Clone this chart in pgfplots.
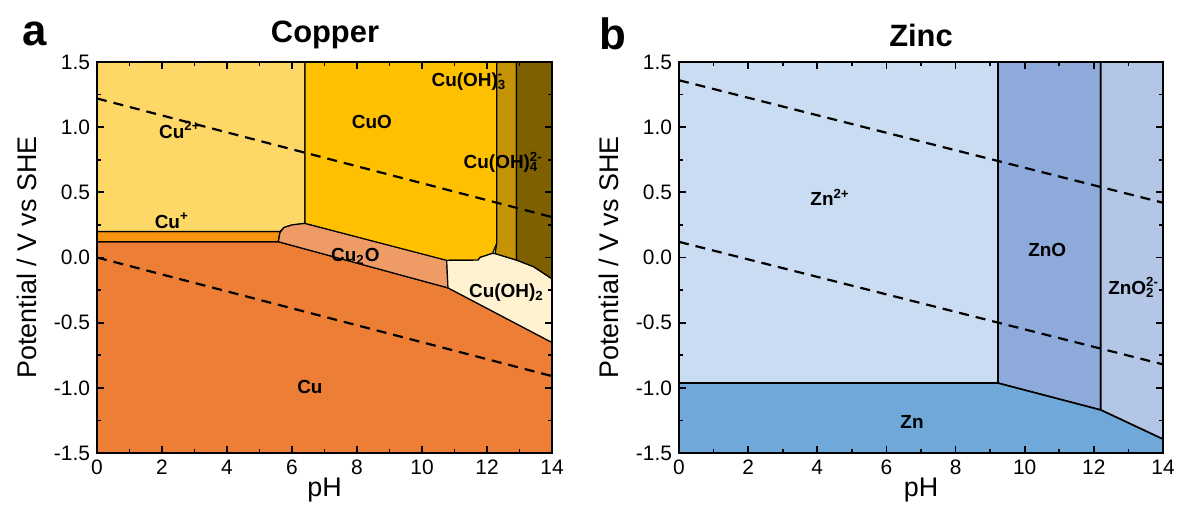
\documentclass[border=0pt]{standalone}
\usepackage{fontspec}
\setmainfont{Liberation Sans}
\usepackage{pgfplots}
\pgfplotsset{compat=1.18}
\definecolor{cuII}{HTML}{FDD866}
\definecolor{cuO}{HTML}{FFC000}
\definecolor{cuOHiii}{HTML}{C49306}
\definecolor{cuOHiv}{HTML}{7F6000}
\definecolor{cuI}{HTML}{F8930F}
\definecolor{cuiiO}{HTML}{EF9B66}
\definecolor{cuM}{HTML}{EC7E36}
\definecolor{cuOHii}{HTML}{FFF2D0}
\definecolor{znII}{HTML}{C9DCF1}
\definecolor{znO}{HTML}{8EAADB}
\definecolor{znOii}{HTML}{B4C6E6}
\definecolor{znM}{HTML}{70A8DA}
\tikzset{lbl/.style={font=\bfseries\fontsize{9.5}{11}\selectfont, inner sep=1bp}}
\pgfplotsset{pbase/.style={
  scale only axis, height=195.5bp,
  xmin=0, xmax=14, ymin=-1.5, ymax=1.5,
  xtick={0,2,...,14}, ytick={-1.5,-1,...,1.5},
  minor x tick num=1, minor y tick num=1,
  tick align=inside, xtick pos=both, ytick pos=both,
  major tick length=3.5bp, minor tick length=2bp,
  axis on top,
  axis line style={line width=1.1bp},
  every tick/.style={line width=0.9bp, black},
  ticklabel style={font=\fontsize{10.5}{12}\selectfont},
  /pgf/number format/assume math mode=true,
  yticklabel style={/pgf/number format/.cd, fixed, fixed zerofill, precision=1},
  xlabel={pH}, ylabel={Potential / V vs SHE},
  label style={font=\fontsize{13.5}{15}\selectfont},
  xlabel style={at={(axis description cs:0.5,0)}, anchor=center, yshift=-18.5bp},
  ylabel style={at={(axis description cs:0,0.5)}, anchor=center, yshift=35bp},
}}
\begin{document}
\begin{tikzpicture}
\path[use as bounding box] (0,0) rectangle (589bp,259bp);
\begin{axis}[pbase, width=227.5bp, at={(48.5bp,32.5bp)}, anchor=south west]
% Cu
\addplot[fill=cuM, draw=black, line width=0.6bp] coordinates {(0,-1.6) (14.1,-1.6) (14.1,-0.665) (14,-0.652) (10.8,-0.233) (5.58,0.121) (0,0.121)} -- cycle;
% Cu+
\addplot[fill=cuI, draw=black, line width=0.6bp] coordinates {(-0.1,0.121) (5.58,0.121) (5.63,0.2) (-0.1,0.2)} -- cycle;
% Cu2+
\addplot[fill=cuII, draw=black, line width=0.6bp] coordinates {(-0.1,0.2) (5.63,0.2) (5.75,0.23) (6.0,0.25) (6.4,0.262) (6.4,1.6) (-0.1,1.6)} -- cycle;
% Cu2O
\addplot[fill=cuiiO, draw=black, line width=0.6bp] coordinates {(5.58,0.121) (5.63,0.19) (5.75,0.23) (6.0,0.25) (6.4,0.262) (10.76,-0.02) (10.8,-0.233)} -- cycle;
% CuO
\addplot[fill=cuO, draw=black, line width=0.6bp] coordinates {(6.4,0.262) (6.4,1.6) (12.3,1.6) (12.3,0.109) (12.17,0.032) (11.78,0.0) (11.73,-0.02) (10.76,-0.022)} -- cycle;
% Cu(OH)2
\addplot[fill=cuOHii, draw=black, line width=0.6bp] coordinates {(10.76,-0.022) (11.73,-0.02) (11.78,0.0) (12.17,0.032) (12.25,0.03) (12.91,-0.02) (13.43,-0.07) (14.1,-0.18) (14.1,-0.665) (14,-0.652) (10.8,-0.233)} -- cycle;
% Cu(OH)3-
\addplot[fill=cuOHiii, draw=black, line width=0.6bp] coordinates {(12.3,1.6) (12.91,1.6) (12.91,-0.02) (12.25,0.03) (12.3,0.109)} -- cycle;
% Cu(OH)4 2-
\addplot[fill=cuOHiv, draw=black, line width=0.6bp] coordinates {(12.91,1.6) (14.1,1.6) (14.1,-0.18) (13.43,-0.07) (12.91,-0.02)} -- cycle;
% water lines
\addplot[black, line width=1.1bp, dash pattern=on 5bp off 3.5bp] coordinates {(0,1.22) (14,0.31)};
\addplot[black, line width=1.1bp, dash pattern=on 5bp off 3.5bp] coordinates {(0,0.0) (14,-0.91)};
\node[lbl] at (axis cs:2.55,0.98) {Cu\textsuperscript{2+}};
\node[lbl] at (axis cs:8.46,1.04) {CuO};
\node[lbl] at (axis cs:11.4,1.35) {Cu(OH)\rlap{\textsubscript{3}}\textsuperscript{-}};
\node[lbl] at (axis cs:12.5,0.73) {Cu(OH)\rlap{\textsubscript{4}}\textsuperscript{2-}};
\node[lbl] at (axis cs:2.3,0.28) {Cu\textsuperscript{+}};
\node[lbl] at (axis cs:7.95,0.01) {Cu\textsubscript{2}O};
\node[lbl] at (axis cs:12.6,-0.27) {Cu(OH)\textsubscript{2}};
\node[lbl] at (axis cs:6.55,-0.99) {Cu};
\end{axis}
\begin{axis}[pbase, width=242bp, at={(339.5bp,32.5bp)}, anchor=south west]
\addplot[fill=znII, draw=black, line width=0.8bp] coordinates {(-0.1,-0.964) (9.23,-0.964) (9.23,1.6) (-0.1,1.6)} -- cycle;
\addplot[fill=znO, draw=black, line width=0.8bp] coordinates {(9.23,-0.964) (12.2,-1.17) (12.2,1.6) (9.23,1.6)} -- cycle;
\addplot[fill=znOii, draw=black, line width=0.8bp] coordinates {(12.2,-1.17) (14,-1.394) (14.1,-1.406) (14.1,1.6) (12.2,1.6)} -- cycle;
\addplot[fill=znM, draw=black, line width=0.8bp] coordinates {(-0.1,-1.6) (14.1,-1.6) (14.1,-1.406) (14,-1.394) (12.2,-1.17) (9.23,-0.964) (-0.1,-0.964)} -- cycle;
\addplot[black, line width=1.1bp, dash pattern=on 5bp off 3.5bp] coordinates {(0,1.36) (14,0.42)};
\addplot[black, line width=1.1bp, dash pattern=on 5bp off 3.5bp] coordinates {(0,0.12) (14,-0.82)};
\node[lbl] at (axis cs:4.37,0.46) {Zn\textsuperscript{2+}};
\node[lbl] at (axis cs:10.65,0.06) {ZnO};
\node[lbl] at (axis cs:13.15,-0.23) {ZnO\rlap{\textsubscript{2}}\textsuperscript{2-}};
\node[lbl] at (axis cs:6.74,-1.26) {Zn};
\end{axis}
\node[font=\bfseries\fontsize{15.5}{18}\selectfont] at (162.5bp,241.5bp) {Copper};
\node[font=\bfseries\fontsize{15.5}{18}\selectfont] at (460.5bp,241.5bp) {Zinc};
\node[font=\bfseries\fontsize{22}{26}\selectfont] at (17.5bp,242bp) {a};
\node[font=\bfseries\fontsize{22}{26}\selectfont] at (306.5bp,242bp) {b};
\end{tikzpicture}
\end{document}
